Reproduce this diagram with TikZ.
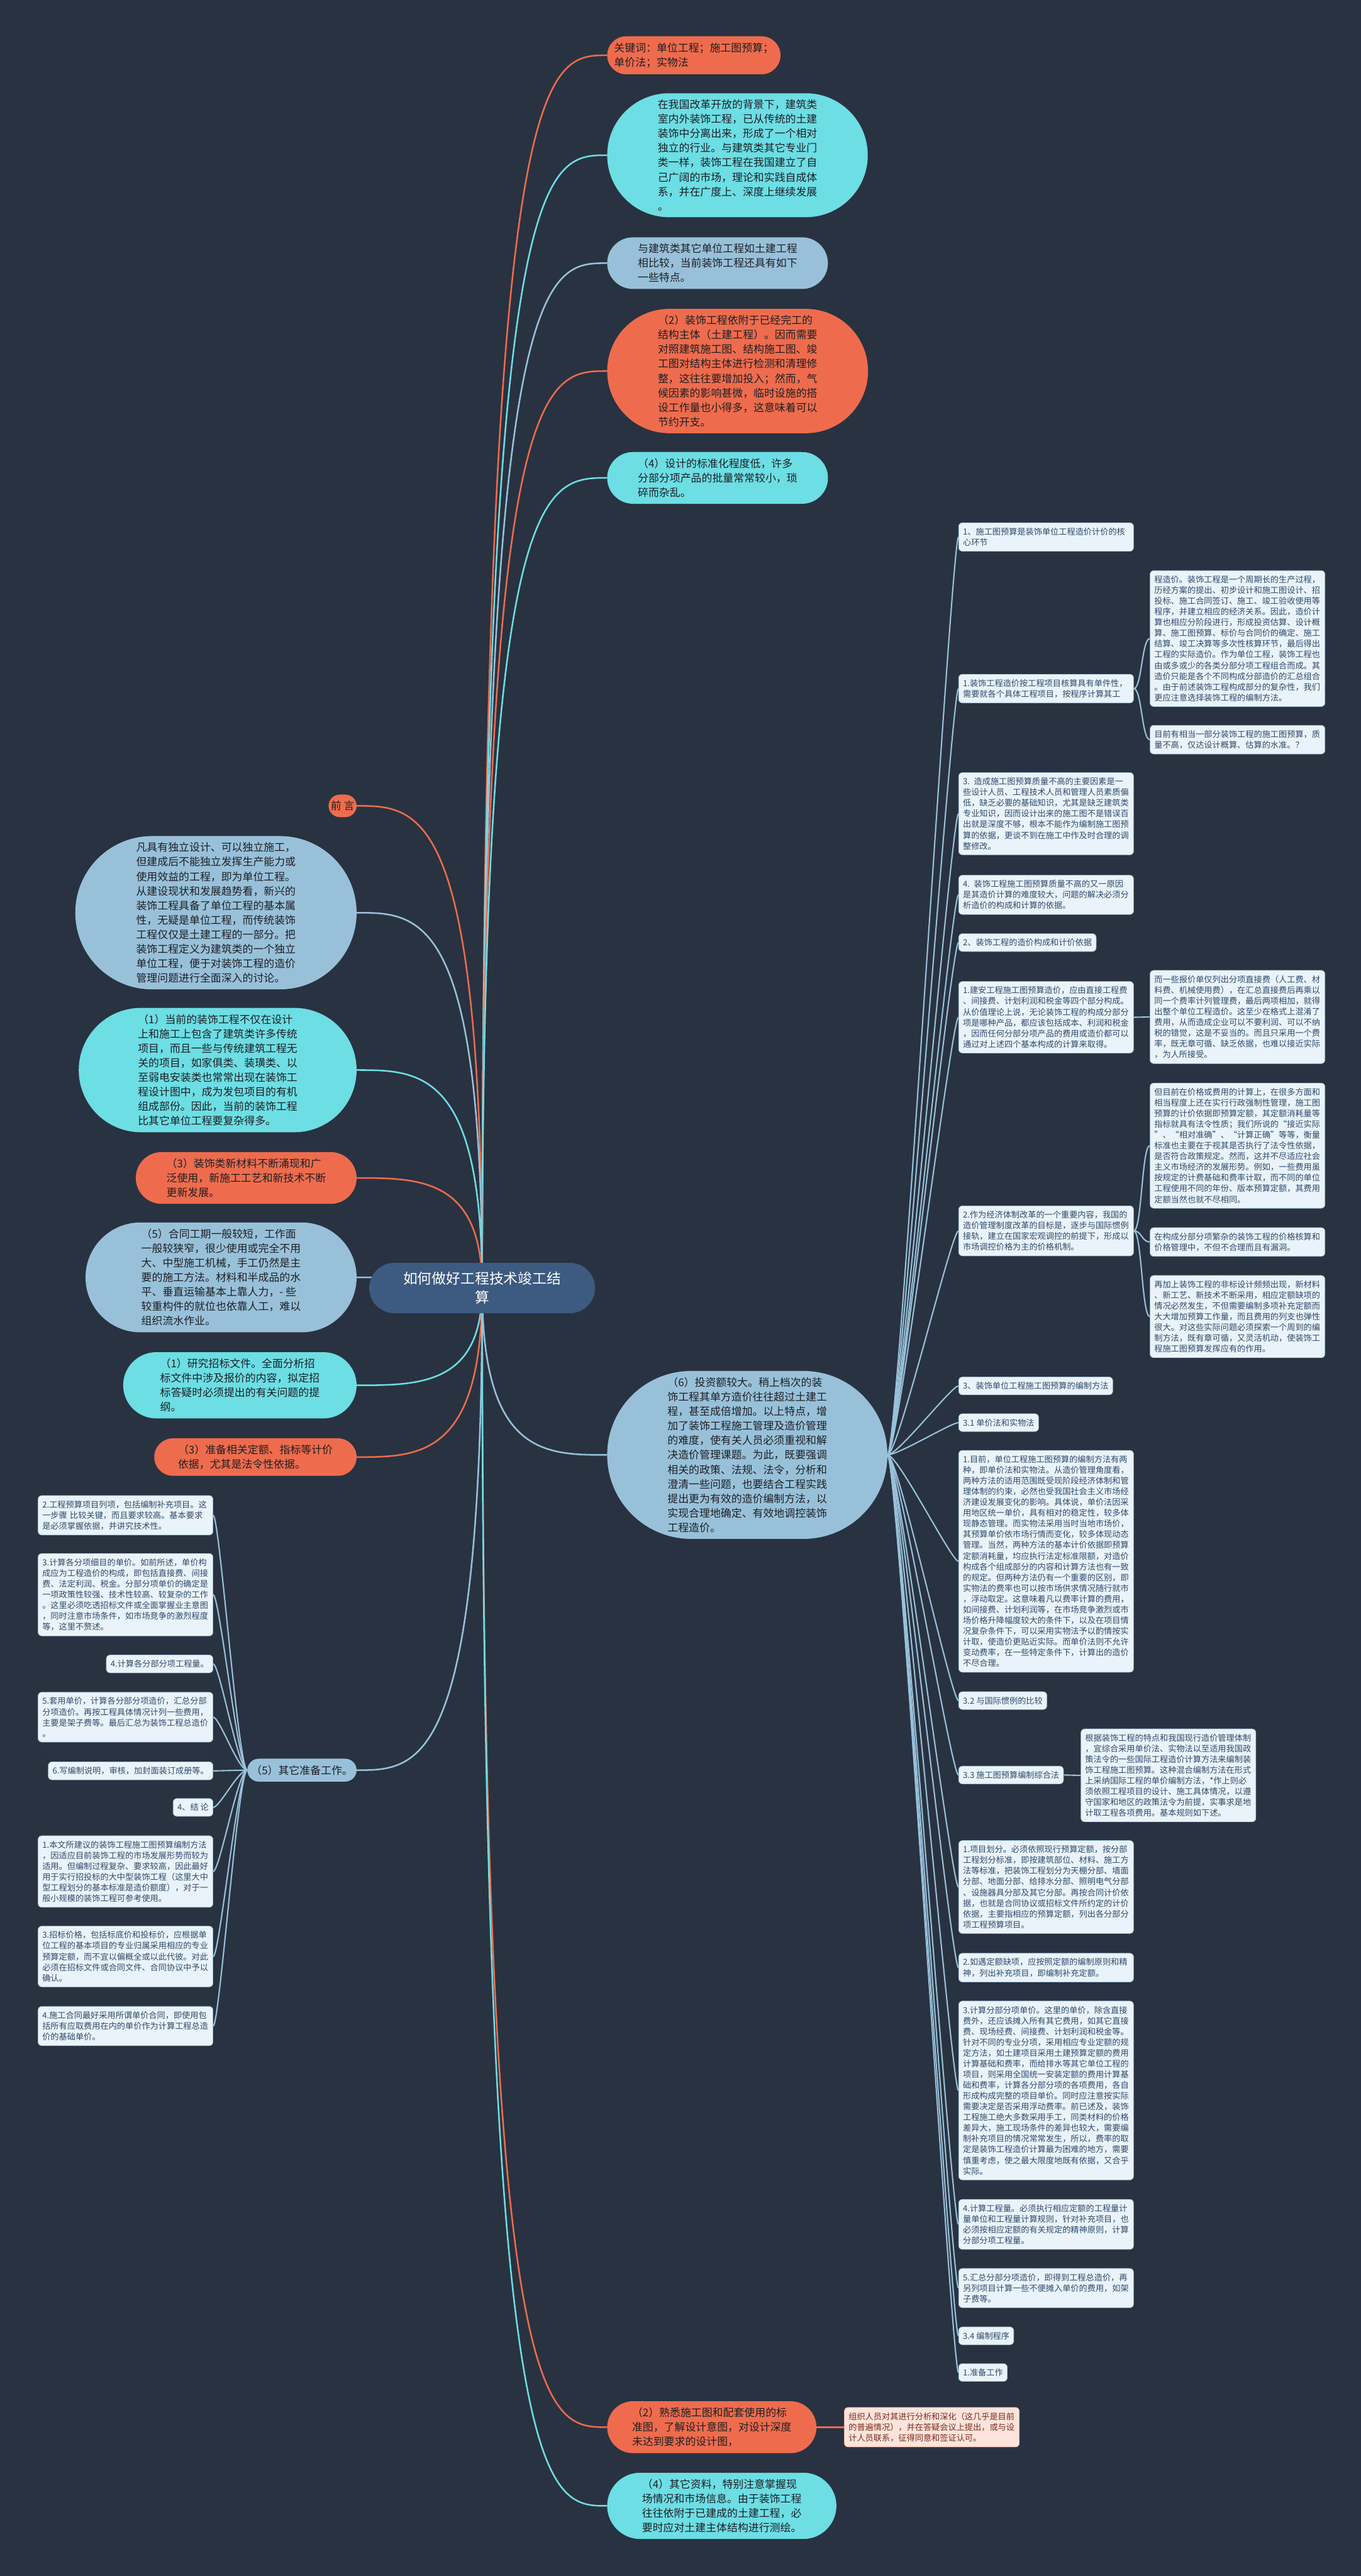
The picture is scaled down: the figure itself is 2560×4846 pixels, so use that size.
\documentclass[tikz,border=0pt]{standalone}
\usepackage{fontspec}
\setmainfont{Noto Sans CJK SC}
\usetikzlibrary{shapes.misc,calc}
\definecolor{MapBack}{HTML}{293241}
\definecolor{MapOrange}{HTML}{EE6C4D}
\definecolor{MapCyan}{HTML}{6CDEE4}
\definecolor{MapSky}{HTML}{98C1D9}
\definecolor{MapRoot}{HTML}{3D5A80}
\definecolor{MapInk}{HTML}{1E1E24}
\definecolor{LeafFill}{HTML}{E9F3F9}
\definecolor{LeafInk}{HTML}{2F4B6C}
\definecolor{PinkFill}{HTML}{FCE4DC}
\definecolor{PinkInk}{HTML}{7A2C18}
\pgfdeclarelayer{back}
\pgfdeclarelayer{links}
\pgfsetlayers{back,links,main}
\newcommand\mapbubfont{\fontsize{20pt}{27.3pt}\selectfont}
\newcommand\mapleaffont{\fontsize{15.6pt}{20.2pt}\selectfont}
\newcommand\maprootfont{\fontsize{27pt}{35.6pt}\selectfont}
\tikzset{
  bubble/.style={rounded rectangle,inner xsep=4pt,inner ysep=12pt,align=left,text=MapInk,font=\mapbubfont},
  orbub/.style={bubble,fill=MapOrange},
  cybub/.style={bubble,fill=MapCyan},
  skybub/.style={bubble,fill=MapSky},
  rootbub/.style={rounded rectangle,fill=MapRoot,text=white,align=center,inner xsep=53pt,inner ysep=17pt,font=\maprootfont},
  leafbox/.style={draw=MapSky,line width=0.8pt,fill=LeafFill,rounded corners=7pt,inner xsep=8pt,inner ysep=9.5pt,align=left,text=LeafInk,font=\mapleaffont},
  wideleaf/.style={leafbox,text width=313pt},
  pinkleaf/.style={wideleaf,fill=PinkFill,draw=MapOrange!55,text=PinkInk},
  orlink/.style={draw=MapOrange,line width=3pt},
  cylink/.style={draw=MapCyan,line width=3pt},
  skylink/.style={draw=MapSky,line width=3pt},
  leaflink/.style={draw=MapSky,line width=2.5pt}
}
\begin{document}
\begin{tikzpicture}[x=1pt,y=1pt,line cap=round,line join=round]
  \begin{pgfonlayer}{back}
    \fill[MapBack] (0,0) rectangle (2560,-4846);
  \end{pgfonlayer}
  \useasboundingbox (0,0) rectangle (2560,-4846);

  % root
  \node[rootbub] (root) at (907,-2423) {如何做好工程技术竣工结\\算};

  % right upper branches
  \node[orbub,anchor=west] (kw) at (1142,-104) {关键词：单位工程；施工图预算；\\单价法；实物法};
  \node[cybub,anchor=west,inner xsep=30pt] (cytop) at (1142,-292) {在我国改革开放的背景下，建筑类\\室内外装饰工程，已从传统的土建\\装饰中分离出来，形成了一个相对\\独立的行业。与建筑类其它专业门\\类一样，装饰工程在我国建立了自\\己广阔的市场，理论和实践自成体\\系，并在广度上、深度上继续发展\\。};
  \node[skybub,anchor=west,inner xsep=41pt] (skytop) at (1142,-495) {与建筑类其它单位工程如土建工程\\相比较，当前装饰工程还具有如下\\一些特点。};
  \node[orbub,anchor=west,inner xsep=30pt] (ortwo) at (1142,-698) {（2）装饰工程依附于已经完工的\\结构主体（土建工程）。因而需要\\对照建筑施工图、结构施工图、竣\\工图对结构主体进行检测和清理修\\整，这往往要增加投入；然而，气\\候因素的影响甚微，临时设施的搭\\设工作量也小得多，这意味着可以\\节约开支。};
  \node[cybub,anchor=west,inner xsep=41pt] (cyfour) at (1142,-899) {（4）设计的标准化程度低，许多\\分部分项产品的批量常常较小，琐\\碎而杂乱。};

  % left branches
  \node[orbub,anchor=east,inner xsep=2pt] (pref) at (671,-1516) {前 言};
  \node[skybub,anchor=east,inner xsep=28pt] (defn) at (671,-1717) {凡具有独立设计、可以独立施工，\\但建成后不能独立发挥生产能力或\\使用效益的工程，即为单位工程。\\从建设现状和发展趋势看，新兴的\\装饰工程具备了单位工程的基本属\\性，无疑是单位工程，而传统装饰\\工程仅仅是土建工程的一部分。把\\装饰工程定义为建筑类的一个独立\\单位工程，便于对装饰工程的造价\\管理问题进行全面深入的讨论。};
  \node[cybub,anchor=east,inner xsep=46pt] (curr) at (671,-2013) {（1）当前的装饰工程不仅在设计\\上和施工上包含了建筑类许多传统\\项目，而且一些与传统建筑工程无\\关的项目，如家俱类、装璜类、以\\至弱电安装类也常常出现在装饰工\\程设计图中，成为发包项目的有机\\组成部份。因此，当前的装饰工程\\比其它单位工程要复杂得多。};
  \node[orbub,anchor=east,inner xsep=41pt] (newm) at (671,-2216) {（3）装饰类新材料不断涌现和广\\泛使用，新施工工艺和新技术不断\\更新发展。};
  \node[skybub,anchor=east,inner xsep=50pt] (perd) at (671,-2403) {（5）合同工期一般较短，工作面\\一般较狭窄，很少使用或完全不用\\大、中型施工机械，手工仍然是主\\要的施工方法。材料和半成品的水\\平、垂直运输基本上靠人力，- 些\\较重构件的就位也依靠人工，难以\\组织流水作业。};
  \node[cybub,anchor=east,inner xsep=44pt] (stud) at (671,-2606) {（1）研究招标文件。全面分析招\\标文件中涉及报价的内容，拟定招\\标答疑时必须提出的有关问题的提\\纲。};
  \node[orbub,anchor=east,inner xsep=36pt] (prep) at (671,-2741) {（3）准备相关定额、指标等计价\\依据，尤其是法令性依据。};
  \node[skybub,anchor=east,inner xsep=5pt] (rest) at (671,-3330) {（5）其它准备工作。};

  % right middle and lower branches
  \node[skybub,anchor=west,inner xsep=16pt] (six) at (1142,-2737) {（6）投资额较大。稍上档次的装\\饰工程其单方造价往往超过土建工\\程，甚至成倍增加。以上特点，增\\加了装饰工程施工管理及造价管理\\的难度，使有关人员必须重视和解\\决造价管理课题。为此，既要强调\\相关的政策、法规、法令，分析和\\澄清一些问题，也要结合工程实践\\提出更为有效的造价编制方法，以\\实现合理地确定、有效地调控装饰\\工程造价。};
  \node[orbub,anchor=west,inner xsep=30pt] (famil) at (1142,-4566) {（2）熟悉施工图和配套使用的标\\准图，了解设计意图，对设计深度\\未达到要求的设计图，};
  \node[cybub,anchor=west,inner xsep=40pt] (other) at (1142,-4714) {（4）其它资料，特别注意掌握现\\场情况和市场信息。由于装饰工程\\往往依附于已建成的土建工程，必\\要时应对土建主体结构进行测绘。};
  \node[pinkleaf,anchor=west] (famnote) at (1588,-4566) {组织人员对其进行分析和深化（这几乎是目前\\的普遍情况），并在答疑会议上提出，或与设\\计人员联系，征得同意和签证认可。};

  % right column leaves
  \node[wideleaf,anchor=north west] (r1) at (1803,-983) {1、施工图预算是装饰单位工程造价计价的核\\心环节};
  \node[wideleaf,anchor=north west] (r2) at (1803,-1268) {1.装饰工程造价按工程项目核算具有单件性，\\需要就各个具体工程项目，按程序计算其工};
  \node[wideleaf,anchor=north west] (r2a) at (2163,-1073) {程造价。装饰工程是一个周期长的生产过程，\\历经方案的提出、初步设计和施工图设计、招\\投标、施工合同签订、施工、竣工验收使用等\\程序，并建立相应的经济关系。因此，造价计\\算也相应分阶段进行，形成投资估算、设计概\\算、施工图预算、标价与合同价的确定、施工\\结算、竣工决算等多次性核算环节，最后得出\\工程的实际造价。作为单位工程，装饰工程也\\由或多或少的各类分部分项工程组合而成。其\\造价只能是各个不同构成分部造价的汇总组合\\。由于前述装饰工程构成部分的复杂性，我们\\更应注意选择装饰工程的编制方法。};
  \node[wideleaf,anchor=north west] (r2b) at (2163,-1364) {目前有相当一部分装饰工程的施工图预算，质\\量不高，仅达设计概算、估算的水准。？};
  \node[wideleaf,anchor=north west] (r3) at (1803,-1453) {3. 造成施工图预算质量不高的主要因素是一\\些设计人员、工程技术人员和管理人员素质偏\\低，缺乏必要的基础知识，尤其是缺乏建筑类\\专业知识，因而设计出来的施工图不是错误百\\出就是深度不够，根本不能作为编制施工图预\\算的依据，更谈不到在施工中作及时合理的调\\整修改。};
  \node[wideleaf,anchor=north west] (r4) at (1803,-1646) {4. 装饰工程施工图预算质量不高的又一原因\\是其造价计算的难度较大，问题的解决必须分\\析造价的构成和计算的依据。};
  \node[leafbox,anchor=north west] (r5) at (1803,-1756) {2、装饰工程的造价构成和计价依据};
  \node[wideleaf,anchor=north west] (r6) at (1803,-1846) {1.建安工程施工图预算造价，应由直接工程费\\、间接费、计划利润和税金等四个部分构成。\\从价值理论上说，无论装饰工程的构成分部分\\项是哪种产品，都应该包括成本、利润和税金\\，因而任何分部分项产品的费用或造价都可以\\通过对上述四个基本构成的计算来取得。};
  \node[wideleaf,anchor=north west] (r6a) at (2163,-1825) {而一些报价单仅列出分项直接费（人工费、材\\料费、机械使用费），在汇总直接费后再乘以\\同一个费率计列管理费，最后两项相加，就得\\出整个单位工程造价。这至少在格式上混淆了\\费用，从而造成企业可以不要利润、可以不纳\\税的错觉，这是不妥当的。而且只采用一个费\\率，既无章可循、缺乏依据，也难以接近实际\\，为人所接受。};
  \node[wideleaf,anchor=north west] (r7a) at (2163,-2037) {但目前在价格或费用的计算上，在很多方面和\\相当程度上还在实行行政强制性管理，施工图\\预算的计价依据即预算定额，其定额消耗量等\\指标就具有法令性质；我们所说的“接近实际\\”、“相对准确”、“计算正确”等等，衡量\\标准也主要在于视其是否执行了法令性依据，\\是否符合政策规定。然而，这并不尽适应社会\\主义市场经济的发展形势。例如，一些费用虽\\按规定的计费基础和费率计取，而不同的单位\\工程使用不同的年份、版本预算定额，其费用\\定额当然也就不尽相同。};
  \node[wideleaf,anchor=north west] (r7) at (1803,-2268) {2.作为经济体制改革的一个重要内容，我国的\\造价管理制度改革的目标是，逐步与国际惯例\\接轨，建立在国家宏观调控的前提下，形成以\\市场调控价格为主的价格机制。};
  \node[wideleaf,anchor=north west] (r7b) at (2163,-2309) {在构成分部分项繁杂的装饰工程的价格核算和\\价格管理中，不但不合理而且有漏洞。};
  \node[wideleaf,anchor=north west] (r7c) at (2163,-2399) {再加上装饰工程的非标设计频频出现，新材料\\、新工艺、新技术不断采用，相应定额缺项的\\情况必然发生，不但需要编制多项补充定额而\\大大增加预算工作量，而且费用的列支也弹性\\很大。对这些实际问题必须探索一个周到的编\\制方法，既有章可循，又灵活机动，使装饰工\\程施工图预算发挥应有的作用。};
  \node[leafbox,anchor=north west] (r8) at (1803,-2590) {3、装饰单位工程施工图预算的编制方法};
  \node[leafbox,anchor=north west] (r9) at (1803,-2659) {3.1 单价法和实物法};
  \node[wideleaf,anchor=north west] (r10) at (1803,-2728) {1.目前，单位工程施工图预算的编制方法有两\\种，即单价法和实物法。从造价管理角度看，\\两种方法的适用范围既受现阶段经济体制和管\\理体制的约束，必然也受我国社会主义市场经\\济建设发展变化的影响。具体说，单价法因采\\用地区统一单价，具有相对的稳定性，较多体\\现静态管理。而实物法采用当时当地市场价，\\其预算单价依市场行情而变化，较多体现动态\\管理。当然，两种方法的基本计价依据即预算\\定额消耗量，均应执行法定标准限额，对造价\\构成各个组成部分的内容和计算方法也有一致\\的规定。但两种方法仍有一个重要的区别，即\\实物法的费率也可以按市场供求情况随行就市\\，浮动取定。这意味着凡以费率计算的费用，\\如间接费、计划利润等，在市场竞争激烈或市\\场价格升降幅度较大的条件下，以及在项目情\\况复杂条件下，可以采用实物法予以酌情按实\\计取，使造价更贴近实际。而单价法则不允许\\变动费率，在一些特定条件下，计算出的造价\\不尽合理。};
  \node[leafbox,anchor=north west] (r11) at (1803,-3182) {3.2 与国际惯例的比较};
  \node[leafbox,anchor=north west] (r12) at (1803,-3322) {3.3 施工图预算编制综合法};
  \node[wideleaf,anchor=north west] (r12a) at (2033,-3252) {根据装饰工程的特点和我国现行造价管理体制\\，宜综合采用单价法、实物法以至适用我国政\\策法令的一些国际工程造价计算方法来编制装\\饰工程施工图预算。这种混合编制方法在形式\\上采纳国际工程的单价编制方法，*作上则必\\须依照工程项目的设计、施工具体情况，以遵\\守国家和地区的政策法令为前提，实事求是地\\计取工程各项费用。基本规则如下述。};
  \node[wideleaf,anchor=north west] (r13) at (1803,-3462) {1.项目划分。必须依照现行预算定额，按分部\\工程划分标准，即按建筑部位、材料、施工方\\法等标准，把装饰工程划分为天棚分部、墙面\\分部、地面分部、给排水分部、照明电气分部\\、设施器具分部及其它分部。再按合同计价依\\据，也就是合同协议或招标文件所约定的计价\\依据，主要指相应的预算定额，列出各分部分\\项工程预算项目。};
  \node[wideleaf,anchor=north west] (r14) at (1803,-3674) {2.如遇定额缺项，应按照定额的编制原则和精\\神，列出补充项目，即编制补充定额。};
  \node[wideleaf,anchor=north west] (r15) at (1803,-3764) {3.计算分部分项单价。这里的单价，除含直接\\费外，还应该摊入所有其它费用，如其它直接\\费、现场经费、间接费、计划利润和税金等。\\针对不同的专业分项，采用相应专业定额的规\\定方法，如土建项目采用土建预算定额的费用\\计算基础和费率，而给排水等其它单位工程的\\项目，则采用全国统一安装定额的费用计算基\\础和费率，计算各分部分项的各项费用，各自\\形成构成完整的项目单价。同时应注意按实际\\需要决定是否采用浮动费率。前已述及，装饰\\工程施工绝大多数采用手工，同类材料的价格\\差异大，施工现场条件的差异也较大，需要编\\制补充项目的情况常常发生，所以，费率的取\\定是装饰工程造价计算最为困难的地方，需要\\慎重考虑，使之最大限度地既有依据，又合乎\\实际。};
  \node[wideleaf,anchor=north west] (r16) at (1803,-4137) {4.计算工程量。必须执行相应定额的工程量计\\量单位和工程量计算规则，针对补充项目，也\\必须按相应定额的有关规定的精神原则，计算\\分部分项工程量。};
  \node[wideleaf,anchor=north west] (r17) at (1803,-4267) {5.汇总分部分项造价，即得到工程总造价，再\\另列项目计算一些不便摊入单价的费用，如架\\子费等。};
  \node[leafbox,anchor=north west] (r18) at (1803,-4377) {3.4 编制程序};
  \node[leafbox,anchor=north west] (r19) at (1803,-4446) {1.准备工作};

  % left column leaves
  \node[wideleaf,anchor=north east] (la) at (401,-2813) {2.工程预算项目列项，包括编制补充项目。这\\一步骤 比较关键，而且要求较高。基本要求\\是必须掌握依据，并讲究技术性。};
  \node[wideleaf,anchor=north east] (lb) at (401,-2922) {3.计算各分项细目的单价。如前所述，单价构\\成应为工程造价的构成，即包括直接费、间接\\费、法定利润、税金。分部分项单价的确定是\\一项政策性较强、技术性较高、较复杂的工作\\。这里必须吃透招标文件或全面掌握业主意图\\，同时注意市场条件，如市场竞争的激烈程度\\等，这里不赘述。};
  \node[leafbox,anchor=north east] (lc) at (401,-3113) {4.计算各分部分项工程量。};
  \node[wideleaf,anchor=north east] (ld) at (401,-3183) {5.套用单价，计算各分部分项造价，汇总分部\\分项造价。再按工程具体情况计列一些费用，\\主要是架子费等。最后汇总为装饰工程总造价\\。};
  \node[leafbox,anchor=north east] (le) at (401,-3314) {6.写编制说明，审核，加封面装订成册等。};
  \node[leafbox,anchor=north east] (lf) at (401,-3383) {4、结 论};
  \node[wideleaf,anchor=north east] (lg) at (401,-3453) {1.本文所建议的装饰工程施工图预算编制方法\\，因适应目前装饰工程的市场发展形势而较为\\适用。但编制过程复杂、要求较高，因此最好\\用于实行招投标的大中型装饰工程（这里大中\\型工程划分的基本标准是造价额度），对于一\\般小规模的装饰工程可参考使用。};
  \node[wideleaf,anchor=north east] (lh) at (401,-3623) {3.招标价格，包括标底价和投标价，应根据单\\位工程的基本项目的专业归属采用相应的专业\\预算定额，而不宜以偏概全或以此代彼。对此\\必须在招标文件或合同文件、合同协议中予以\\确认。};
  \node[wideleaf,anchor=north east] (li) at (401,-3774) {4.施工合同最好采用所谓单价合同，即使用包\\括所有应取费用在内的单价作为计算工程总造\\价的基础单价。};

  % connectors
  \begin{pgfonlayer}{links}
    \foreach \c/\s in {kw/orlink,cytop/cylink,skytop/skylink,ortwo/orlink,cyfour/cylink,six/skylink,famil/orlink,other/cylink}
      \draw[\s] (root.center) .. controls (root.center |- \c.west) and ($(root.center |- \c.west)!0.5!(\c.west)$) .. (\c.west);
    \foreach \c/\s in {pref/orlink,defn/skylink,curr/cylink,newm/orlink,perd/skylink,stud/cylink,prep/orlink,rest/skylink}
      \draw[\s] (root.center) .. controls (root.center |- \c.east) and ($(root.center |- \c.east)!0.5!(\c.east)$) .. (\c.east);
    \foreach \c in {r1,r2,r3,r4,r5,r6,r7,r8,r9,r10,r11,r12,r13,r14,r15,r16,r17,r18,r19}
      \draw[leaflink] (six.east) .. controls +(20,0) and +(-13,0) .. (\c.west);
    \foreach \p/\c in {r2/r2a,r2/r2b,r6/r6a,r7/r7a,r7/r7b,r7/r7c,r12/r12a}
      \draw[leaflink] (\p.east) .. controls +(15,0) and +(-15,0) .. (\c.west);
    \foreach \c in {la,lb,lc,ld,le,lf,lg,lh,li}
      \draw[leaflink] (rest.west) .. controls +(-17,0) and +(12,0) .. (\c.east);
    \draw[orlink] (famil.east) -- (famnote.west);
  \end{pgfonlayer}
\end{tikzpicture}
\end{document}
